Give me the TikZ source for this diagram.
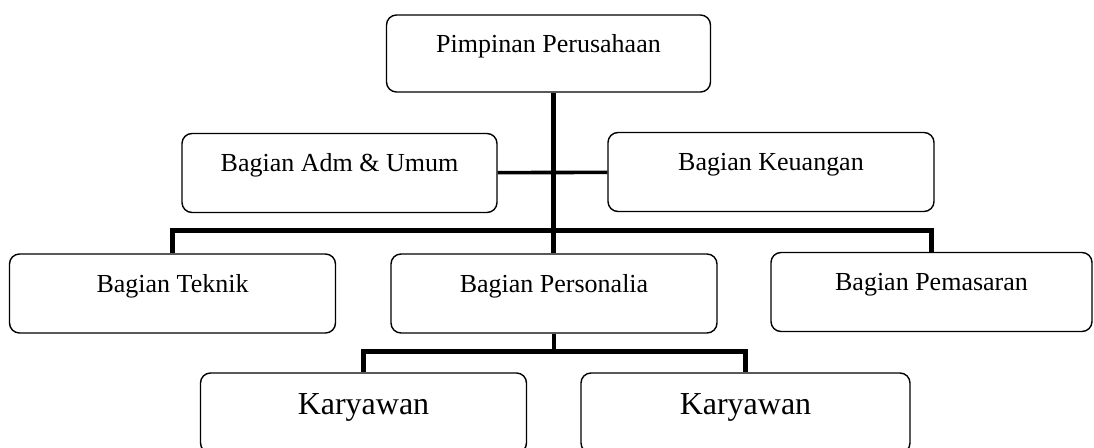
\documentclass[tikz,border=0pt]{standalone}
\usepackage{fontspec}
\setmainfont{Liberation Serif}
\usepackage{tikz}
\usetikzlibrary{positioning}

\tikzset{
    unit/.style={draw, rounded corners=5pt, line width=0.7pt, minimum width=163pt, minimum height=39.5pt,
        text height=9pt, text depth=10pt, font=\fontsize{13}{15}\selectfont},
    staff/.style={unit, minimum height=40pt, text height=11pt, text depth=9pt, font=\fontsize{16}{18}\selectfont},
    bar/.style={line width=2.5pt},
    link/.style={line width=1.8pt},
}

\begin{document}
\begin{tikzpicture}[x=0.5pt, y=-0.5pt]
        \clip (0, 0) rectangle (1094, 448);
        \node[unit, minimum width=162pt, minimum height=38.5pt] (pimpinan) at (548.5, 53.5) {Pimpinan Perusahaan};
        \node[unit, minimum width=157.5pt] (adm) at (339.5, 173) {Bagian Adm \& Umum};
        \node[unit] (keuangan) at (771, 172) {Bagian Keuangan};
        \node[unit] (teknik) at (172.5, 293.5) {Bagian Teknik};
        \node[unit] (personalia) at (554, 293.5) {Bagian Personalia};
        \node[unit, minimum width=160.5pt] (pemasaran) at (931.5, 292) {Bagian Pemasaran};
        \node[staff] (karyawan1) at (363.5, 413) {Karyawan};
        \node[staff, minimum width=164.5pt] (karyawan2) at (745.5, 413) {Karyawan};

        \coordinate (bus) at (553, 231);
        \coordinate (staffbus) at (554, 352);

        \draw[link] (adm) -- (keuangan);
        \draw[bar] (pimpinan.south -| bus) -- (bus |- personalia.north);
        \draw[bar] (teknik.north) |- (bus) -| (pemasaran.north);
        \draw[link] (personalia.south) -- (staffbus);
        \draw[bar] (karyawan1.north) |- (staffbus) -| (karyawan2.north);
    \end{tikzpicture}
\end{document}
